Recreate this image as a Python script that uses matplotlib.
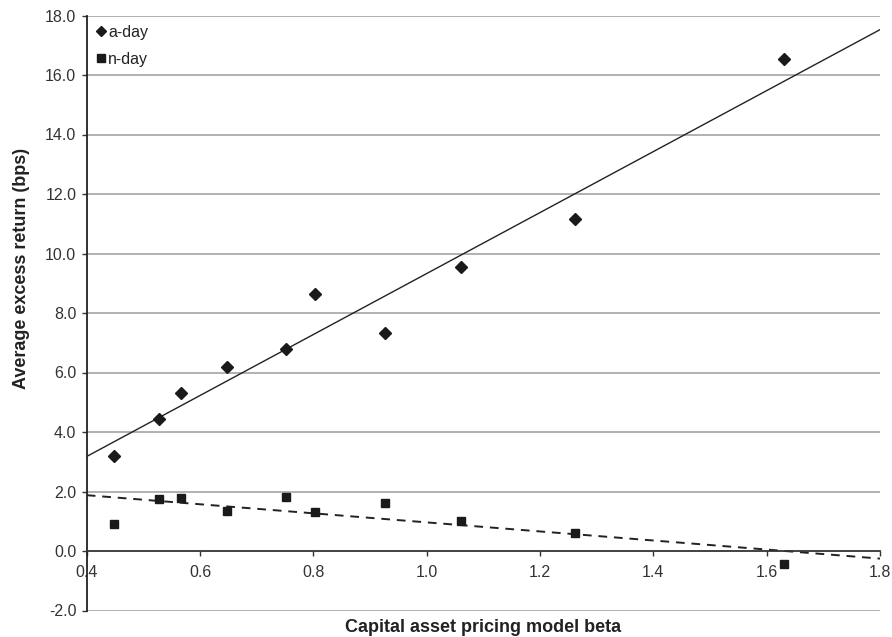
import matplotlib
matplotlib.use("Agg")
import matplotlib.pyplot as plt
import numpy as np

beta = [0.449, 0.527, 0.566, 0.647, 0.752, 0.803, 0.926, 1.060, 1.262, 1.630]
a_day = [3.19, 4.44, 5.30, 6.19, 6.78, 8.64, 7.34, 9.56, 11.15, 16.55]
n_day = [0.91, 1.76, 1.78, 1.35, 1.83, 1.32, 1.60, 1.02, 0.60, -0.45]
x_ticks = [0.4, 0.6, 0.8, 1.0, 1.2, 1.4, 1.6, 1.8]
y_ticks = [-2.0, 0.0, 2.0, 4.0, 6.0, 8.0, 10.0, 12.0, 14.0, 16.0, 18.0]

plt.rcParams['font.family'] = ['Liberation Sans', 'DejaVu Sans']

fig = plt.figure(figsize=(8.92, 6.37), dpi=100)
ax = fig.add_axes([86.7/892, 26.5/637, 793.3/892, 595/637])

for v in y_ticks:
    if v != 0:
        ax.axhline(v, color='#ababab', lw=1.3, zorder=0)

xs = np.array([0.4, 1.8])
pa = np.polyfit(beta, a_day, 1)
pn = np.polyfit(beta, n_day, 1)
ax.plot(xs, np.polyval(pa, xs), color='#222222', lw=1.0, zorder=2)
ax.plot(xs, np.polyval(pn, xs), color='#222222', lw=1.4, ls=(0, (4.5, 3.5)), zorder=2)

ax.plot(beta, a_day, ls='none', marker='D', ms=6.5, color='#1a1a1a', label='a-day', zorder=3)
ax.plot(beta, n_day, ls='none', marker='s', ms=6, color='#1a1a1a', label='n-day', zorder=3)

ax.set_xlim(0.4, 1.8)
ax.set_ylim(-2, 18)
ax.set_xticks(x_ticks)
ax.set_xticklabels([f"{v:.1f}" for v in x_ticks])
ax.set_yticks(y_ticks)
ax.set_yticklabels([f"{v:.1f}" for v in y_ticks])

for s in ['top', 'right']:
    ax.spines[s].set_visible(False)
ax.spines['bottom'].set_position(('data', 0))
ax.spines['bottom'].set_color('#333333')
ax.spines['bottom'].set_linewidth(1.3)
ax.spines['left'].set_color('#222222')
ax.spines['left'].set_linewidth(1.3)

ax.tick_params(axis='x', direction='out', length=3.5, width=1, colors='#333333',
               labelsize=11.5, labelcolor='#333333', pad=6.5)
ax.tick_params(axis='y', direction='out', length=3.5, width=1, colors='#333333',
               labelsize=11.5, labelcolor='#333333', pad=4)

fig.text(483/892, 1 - 628/637, 'Capital asset pricing model beta', ha='center', va='center',
         fontsize=13, fontweight='bold', color='#222222')
fig.text(22/892, 1 - 268/637, 'Average excess return (bps)', ha='center', va='center',
         rotation=90, fontsize=13, fontweight='bold', color='#222222')

leg = ax.legend(loc='upper left', bbox_to_anchor=(0.0, 1.0), frameon=False, fontsize=11.5,
                handlelength=0.6, handletextpad=0.15, labelspacing=0.75, borderaxespad=0.2,
                markerscale=0.85)
for t in leg.get_texts():
    t.set_color('#222222')

fig.savefig('out.png', dpi=100)
